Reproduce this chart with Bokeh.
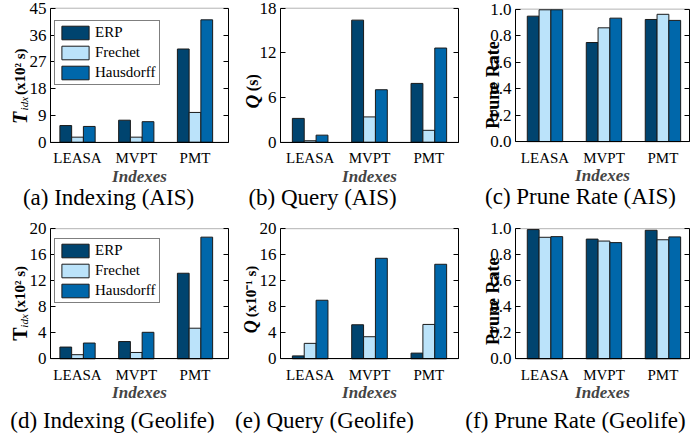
import numpy as np
from bokeh.plotting import figure
from bokeh.models import (Range1d, FixedTicker, LinearAxis, Label, Legend, LegendItem,
                          CustomJSTickFormatter, PrintfTickFormatter, BoxAnnotation)
from bokeh.layouts import row, column
from bokeh.embed import file_html
from bokeh.resources import INLINE

# ---------------- data ----------------
indexes = ["LEASA", "MVPT", "PMT"]
series = ["ERP", "Frechet", "Hausdorff"]
colors = ["#00446f", "#bbe3fa", "#0067aa"]

# (a) Indexing time, AIS (x10^2 s)
idx_ais_erp = [5.6, 7.4, 31.3]
idx_ais_frechet = [1.7, 1.7, 10.0]
idx_ais_hausdorff = [5.3, 6.9, 41.1]
idx_ais_ticks = [0, 9, 18, 27, 36, 45]

# (b) Query time, AIS (s)
q_ais_erp = [3.2, 16.4, 7.9]
q_ais_frechet = [0.2, 3.4, 1.6]
q_ais_hausdorff = [0.95, 7.05, 12.65]
q_ais_ticks = [0, 6, 12, 18]

# (c) Prune rate, AIS
pr_ais_erp = [0.947, 0.748, 0.922]
pr_ais_frechet = [0.995, 0.859, 0.961]
pr_ais_hausdorff = [0.995, 0.932, 0.915]
pr_ticks = [0.0, 0.2, 0.4, 0.6, 0.8, 1.0]

# (d) Indexing time, Geolife (x10^2 s)
idx_geo_erp = [1.8, 2.65, 13.15]
idx_geo_frechet = [0.63, 0.97, 4.7]
idx_geo_hausdorff = [2.42, 4.07, 18.7]
idx_geo_ticks = [0, 4, 8, 12, 16, 20]

# (e) Query time, Geolife (x10^-1 s)
q_geo_erp = [0.44, 5.23, 0.87]
q_geo_frechet = [2.37, 3.39, 5.28]
q_geo_hausdorff = [9.0, 15.45, 14.53]
q_geo_ticks = [0, 4, 8, 12, 16, 20]

# (f) Prune rate, Geolife
pr_geo_erp = [0.993, 0.920, 0.988]
pr_geo_frechet = [0.934, 0.905, 0.915]
pr_geo_hausdorff = [0.939, 0.893, 0.937]

FONT = "Liberation Serif"
BAR_W = 0.2
OFFS = [-0.2, 0.0, 0.2]


def panel(vals, ticks, xr, W, H, box, ylab, caption, cap_px, legend=None, fmt=None):
    """box = (L, R, T, B): pixel position of the plot box inside the canvas."""
    L, R, T, B = box
    x0, x1 = xr
    ymax = ticks[-1]
    kx = (R - L) / (x1 - x0)
    ky = (B - T) / ymax
    xs0 = x0 - L / kx
    xs1 = x1 + (W - R) / kx
    ys1 = ymax + T / ky
    ys0 = ymax - H / ky

    def dx(px):
        return xs0 + px / kx

    def dy(py):
        return ys1 - py / ky

    p = figure(width=W, height=H, output_backend="svg", toolbar_location=None,
               x_range=Range1d(xs0, xs1), y_range=Range1d(ys0, ys1),
               x_axis_type=None, y_axis_type=None, min_border=0,
               background_fill_color="white", border_fill_color="white",
               outline_line_color=None)
    p.grid.visible = False

    rs = []
    for i, (s, c, v) in enumerate(zip(series, colors, vals)):
        xs = [j + OFFS[i] for j in range(len(indexes))]
        r = p.vbar(x=xs, top=v, bottom=0, width=BAR_W, fill_color=c,
                   line_color="#1a1a1a", line_width=1)
        rs.append(r)

    p.add_layout(BoxAnnotation(left=x0, right=x1, bottom=0, top=ymax,
                               fill_color=None, fill_alpha=0,
                               line_color="black", line_width=1))

    # x axis (fixed at y = 0)
    xa = LinearAxis(fixed_location=0, bounds=(x0, x1),
                    ticker=FixedTicker(ticks=list(range(len(indexes)))),
                    major_label_overrides={i: n for i, n in enumerate(indexes)},
                    major_tick_line_color=None, minor_tick_line_color=None,
                    major_label_text_font=FONT, major_label_text_font_size="15px",
                    major_label_text_color="black", major_label_standoff=2,
                    axis_label="Indexes", axis_label_text_font=FONT,
                    axis_label_text_font_size="17px",
                    axis_label_text_font_style="bold italic",
                    axis_label_standoff=-3, axis_line_color="black")
    p.add_layout(xa, "below")

    # y axis (fixed at left edge of box)
    ya = LinearAxis(fixed_location=x0, bounds=(0, ymax),
                    ticker=FixedTicker(ticks=ticks), major_tick_in=5,
                    major_tick_out=0, minor_tick_line_color=None,
                    major_label_text_font=FONT, major_label_text_font_size="17px",
                    major_label_text_color="black", major_label_standoff=4,
                    axis_line_color="black")
    if fmt:
        ya.formatter = PrintfTickFormatter(format=fmt)
    p.add_layout(ya, "left")

    # mirrored ticks on the right edge
    ra = LinearAxis(fixed_location=x1, bounds=(0, ymax),
                    ticker=FixedTicker(ticks=ticks), major_tick_in=5,
                    major_tick_out=0, minor_tick_line_color=None,
                    major_label_standoff=0,
                    formatter=CustomJSTickFormatter(code="return ''"),
                    axis_line_color="black")
    p.add_layout(ra, "right")

    # y label pieces (rotated): (text, px from box left, px up from box bottom, size, style, align)
    for text, ox, oy, size, style, align in ylab:
        p.add_layout(Label(x=dx(L + ox), y=dy(B - oy), text=text, angle=np.pi / 2,
                           text_align=align, text_baseline="alphabetic",
                           text_font=FONT, text_font_size=size,
                           text_font_style=style, text_color="black"))

    # caption (centred under the sub-figure)
    p.add_layout(Label(x=dx(cap_px[0]), y=dy(cap_px[1]), text=caption,
                       text_align="center", text_baseline="middle",
                       text_font=FONT, text_font_size="23px", text_color="black"))

    if legend is not None:
        lx, ltop = legend
        lh = 63
        lg = Legend(items=[LegendItem(label=s, renderers=[r]) for s, r in zip(series, rs)],
                    location=(L + lx, H - (T + ltop) - lh), orientation="vertical",
                    border_line_color="black", border_line_width=1,
                    background_fill_color="white", background_fill_alpha=1,
                    glyph_width=34, glyph_height=17, label_height=17,
                    label_standoff=3, spacing=3, padding=3, margin=0,
                    label_text_font=FONT, label_text_font_size="15px",
                    label_text_color="black")
        p.add_layout(lg)
    return p


H1, H2 = 215, 230
WA, WB, WC = 230, 230, 230
CY1, CY2 = 204, 217

tidx_ais = [("T", -31, 19, "20px", "bold italic", "left"),
            ("idx", -27, 33, "11px", "italic", "left"),
            ("(x10\u00b2 s)", -31, 49, "15px", "bold", "left")]
tidx_geo = [("T", -31, 19, "20px", "bold", "left"),
            ("idx", -27, 33, "11px", "italic", "left"),
            ("(x10\u00b2 s)", -31, 49, "15px", "bold", "left")]

pa = panel([idx_ais_erp, idx_ais_frechet, idx_ais_hausdorff], idx_ais_ticks,
           (-0.46, 2.57), WA, H1, (50, 228, 8, 147), tidx_ais,
           "(a) Indexing (AIS)", (108, CY1), legend=(4, 14))
pb = panel([q_ais_erp, q_ais_frechet, q_ais_hausdorff], q_ais_ticks,
           (-0.5, 2.5), WB, H1, (50, 228, 8, 147),
           [("Q", -28, 35, "19px", "bold italic", "left"),
            ("(s)", -28, 53, "16px", "bold", "left")],
           "(b) Query (AIS)", (92, CY1))
pc = panel([pr_ais_erp, pr_ais_frechet, pr_ais_hausdorff], pr_ticks,
           (-0.5, 2.45), WC, H1, (55, 229, 9, 147),
           [("Prune Rate", -23, 59, "18px", "bold", "center")],
           "(c) Prune Rate (AIS)", (120, CY1), fmt="%.1f")

pd_ = panel([idx_geo_erp, idx_geo_frechet, idx_geo_hausdorff], idx_geo_ticks,
            (-0.46, 2.57), WA, H2, (50, 228, 14, 152), tidx_geo,
            "(d) Indexing (Geolife)", (112, CY2), legend=(4, 11))
pe = panel([q_geo_erp, q_geo_frechet, q_geo_hausdorff], q_geo_ticks,
           (-0.5, 2.5), WB, H2, (50, 228, 14, 152),
           [("Q", -30, 27, "18px", "bold italic", "left"),
            ("(x10\u207b\u00b9 s)", -30, 44, "15px", "bold", "left")],
           "(e) Query (Geolife)", (94, CY2))
pf = panel([pr_geo_erp, pr_geo_frechet, pr_geo_hausdorff], pr_ticks,
           (-0.5, 2.45), WC, H2, (55, 229, 14, 152),
           [("Prune Rate", -23, 61, "18px", "bold", "center")],
           "(f) Prune Rate (Geolife)", (115, CY2), fmt="%.1f")

layout = column(row(pa, pb, pc), row(pd_, pe, pf))

with open("out.html", "w") as f:
    f.write(file_html(layout, INLINE))
